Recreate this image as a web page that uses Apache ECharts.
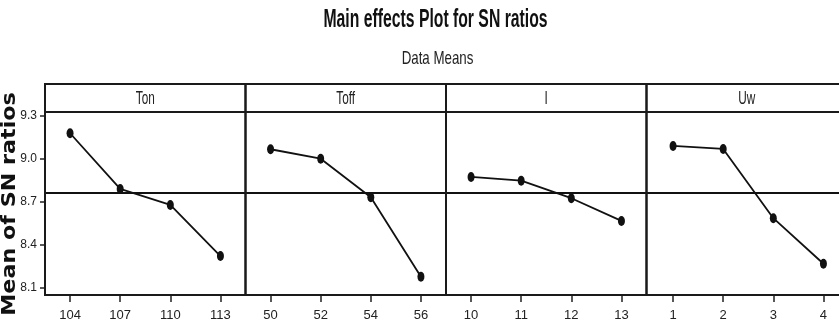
<!DOCTYPE html>
<html>
<head>
<meta charset="utf-8">
<script src="https://cdn.jsdelivr.net/npm/echarts@6/dist/echarts.min.js"></script>
<style>
  html, body { margin: 0; padding: 0; background: #fff; }
  #main { width: 839px; height: 325px; }
</style>
</head>
<body>
<div id="main"></div>
<script>
// factor names and their levels
const factors = ["Ton", "Toff", "I", "Uw"];
const tonLevels = ["104", "107", "110", "113"];
const toffLevels = ["50", "52", "54", "56"];
const iLevels = ["10", "11", "12", "13"];
const uwLevels = ["1", "2", "3", "4"];

// mean of SN ratios per level
const tonMeans = [9.179, 8.789, 8.677, 8.319];
const toffMeans = [9.067, 9.001, 8.731, 8.174];
const iMeans = [8.873, 8.847, 8.724, 8.565];
const uwMeans = [9.090, 9.069, 8.584, 8.265];

const grandMean = 8.755;
const yTicks = [8.1, 8.4, 8.7, 9.0, 9.3];

const levels = [tonLevels, toffLevels, iLevels, uwLevels];
const means = [tonMeans, toffMeans, iMeans, uwMeans];

const sans = "'Liberation Sans', Arial, sans-serif";
const W = 839;
const panelLeft = 45, panelW = 200.5, stripTop = 84, plotTop = 112, plotBottom = 295;

let chart = echarts.init(document.getElementById("main"));

let grids = [], xAxes = [], yAxes = [], series = [], graphics = [];
factors.forEach((f, i) => {
  let left = panelLeft + i * panelW;
  let last = i === factors.length - 1;
  // the last panel runs off the right edge of the picture
  let gw = last ? W - left : panelW;
  grids.push({
    left: left,
    top: plotTop,
    width: gw,
    height: plotBottom - plotTop,
    show: false,
  });
  let tickStyle = { show: true, length: 7, lineStyle: { color: "#222", width: 1.5 } };
  let labelStyle = { color: "#222", fontFamily: sans, fontSize: 13, margin: 14 };
  if (!last) {
    xAxes.push({
      type: "category",
      gridIndex: i,
      data: levels[i],
      axisLine: { show: false },
      axisTick: Object.assign({ alignWithLabel: true }, tickStyle),
      axisLabel: labelStyle,
    });
  } else {
    let vals = levels[i].map(Number);
    let step = panelW / 4; // same level spacing as the other panels
    let xmin = vals[0] - 0.53;
    xAxes.push({
      type: "value",
      gridIndex: i,
      min: xmin,
      max: xmin + gw / step,
      splitLine: { show: false },
      axisLine: { show: false },
      axisTick: Object.assign({ customValues: vals }, tickStyle),
      axisLabel: Object.assign({ customValues: vals }, labelStyle),
    });
  }
  yAxes.push({
    type: "value",
    gridIndex: i,
    min: 8.046,
    max: 9.328,
    splitLine: { show: false },
    axisLine: { show: false },
    axisTick: { show: i === 0, length: 5, customValues: yTicks, lineStyle: { color: "#222", width: 1.5 } },
    axisLabel: {
      show: i === 0,
      customValues: yTicks,
      color: "#222",
      fontFamily: sans,
      fontSize: 12,
      margin: 8,
      formatter: (v) => v.toFixed(1),
    },
  });
  series.push({
    type: "line",
    xAxisIndex: i,
    yAxisIndex: i,
    data: last ? levels[i].map((l, k) => [Number(l), means[i][k]]) : means[i],
    symbol: "circle",
    symbolSize: [7, 10],
    lineStyle: { color: "#111", width: 1.8 },
    itemStyle: { color: "#111" },
    markLine: {
      silent: true,
      symbol: "none",
      label: { show: false },
      lineStyle: { color: "#111", type: "solid", width: 2 },
      data: [{ yAxis: grandMean }],
    },
  });
  // panel frame and factor strip
  graphics.push({
    type: "rect",
    shape: { x: left, y: stripTop, width: panelW, height: plotBottom - stripTop },
    style: { fill: "none", stroke: "#1a1a1a", lineWidth: 2 },
    z: 10,
  });
  graphics.push({
    type: "line",
    shape: { x1: left, y1: plotTop, x2: left + panelW, y2: plotTop },
    style: { stroke: "#1a1a1a", lineWidth: 2 },
    z: 10,
  });
  graphics.push({
    type: "text",
    x: left + panelW / 2,
    y: (stripTop + plotTop) / 2 + 1,
    scaleX: 0.62,
    style: {
      text: f,
      fill: "#222",
      font: "19px " + sans,
      textAlign: "center",
      textVerticalAlign: "middle",
    },
  });
});

// titles
graphics.push({
  type: "text",
  x: 435.5,
  y: 33,
  scaleX: 0.63,
  style: {
    text: "Main effects Plot for SN ratios",
    fill: "#111",
    font: "bold 25px " + sans,
    textAlign: "center",
    textVerticalAlign: "bottom",
  },
});
graphics.push({
  type: "text",
  x: 437.5,
  y: 68,
  scaleX: 0.7,
  style: {
    text: "Data Means",
    fill: "#222",
    font: "19px " + sans,
    textAlign: "center",
    textVerticalAlign: "bottom",
  },
});
// y axis title, rotated
graphics.push({
  type: "text",
  x: 20,
  y: 204,
  rotation: Math.PI / 2,
  scaleX: 1.17,
  style: {
    text: "Mean of SN ratios",
    fill: "#111",
    font: "bold 19px 'DejaVu Sans', sans-serif",
    textAlign: "center",
    textVerticalAlign: "bottom",
  },
});

chart.setOption({
  animation: false,
  grid: grids,
  xAxis: xAxes,
  yAxis: yAxes,
  series: series,
  graphic: graphics,
});
</script>
</body>
</html>
